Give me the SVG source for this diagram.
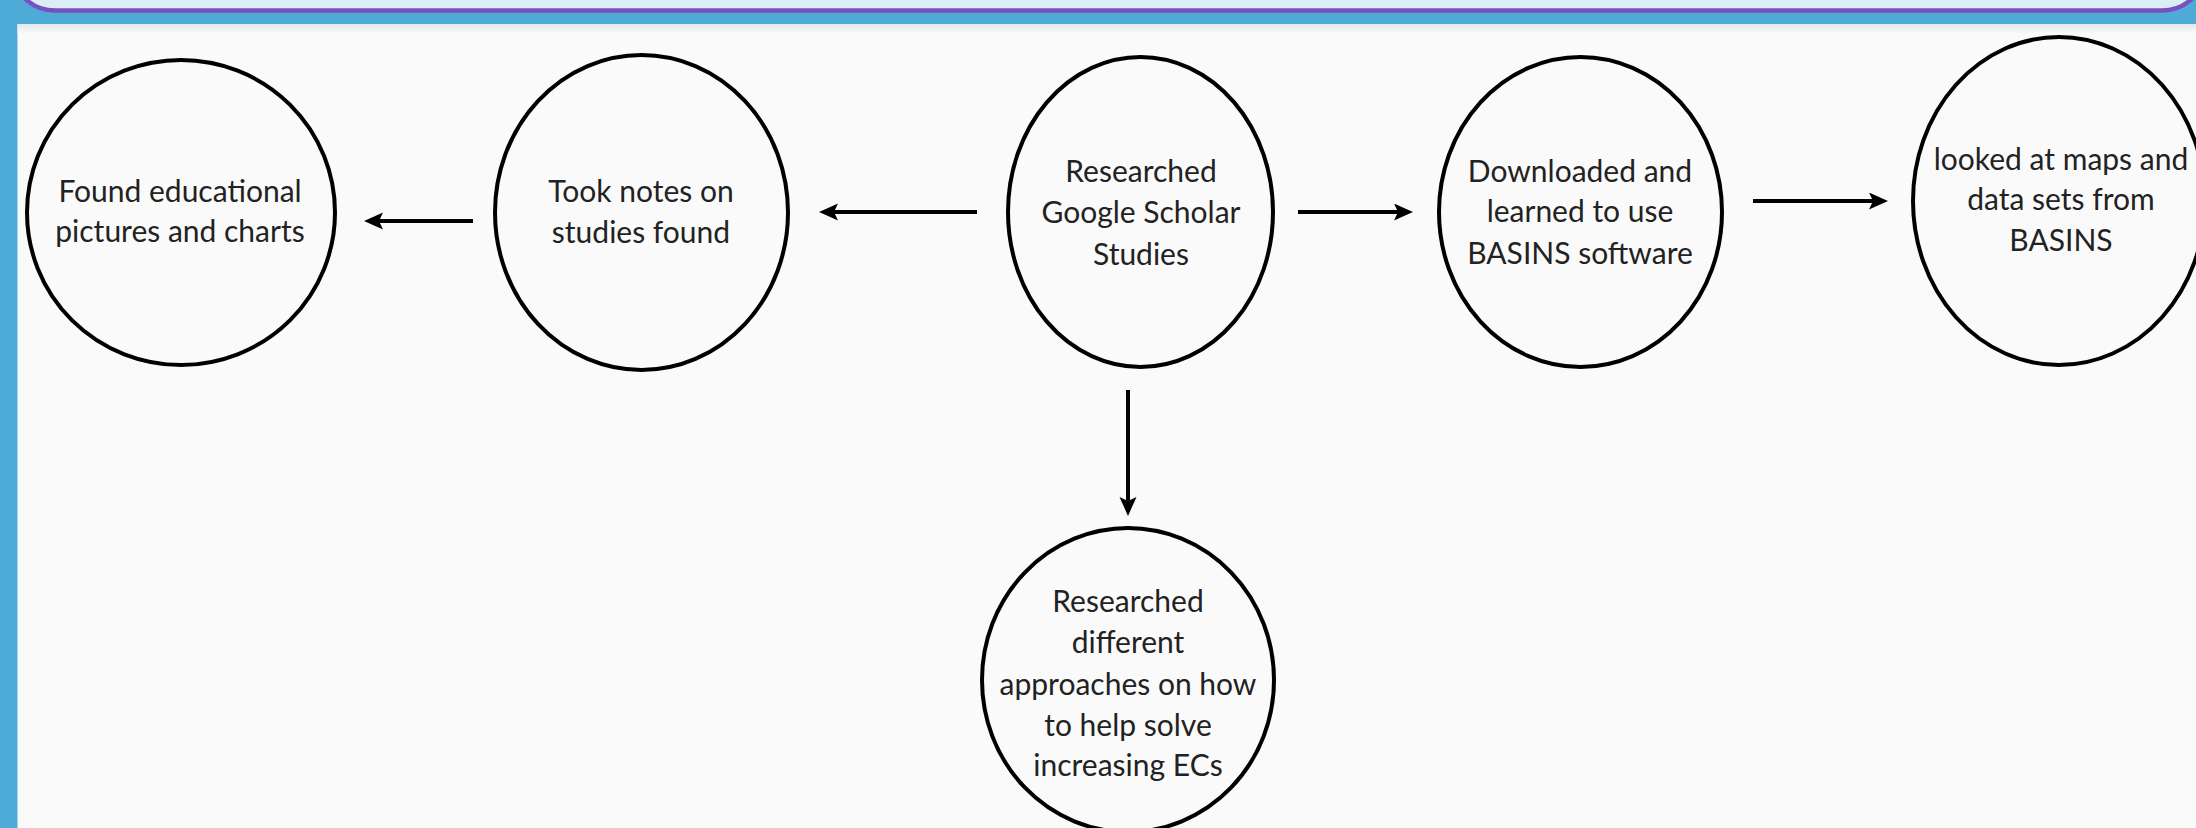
<svg xmlns="http://www.w3.org/2000/svg" width="2196" height="828" viewBox="0 0 2196 828">
<defs>
<style>
.node{fill:none;stroke:#000;stroke-width:4}
.lbl{font-family:Lato,"Liberation Sans",sans-serif;font-size:30px;fill:#222;text-anchor:middle}
.conn{stroke:#000;stroke-width:4;fill:none;marker-end:url(#ah)}
</style>
<marker id="ah" markerUnits="userSpaceOnUse" markerWidth="20" markerHeight="18" viewBox="0 0 20 18" refX="10" refY="8.5" orient="auto">
<path d="M0,0 L19,8.5 L0,17 L4,8.5 z" fill="#000"/>
</marker>
<linearGradient id="shade" x1="0" y1="0" x2="0" y2="1">
<stop offset="0" stop-color="#e6e8ea"/>
<stop offset="1" stop-color="#fafafa"/>
</linearGradient>
</defs>
<rect x="0" y="0" width="2196" height="828" fill="#4eaad6"/>
<rect x="15" y="-60" width="2187" height="70.5" rx="40" ry="40" fill="#dceef5" stroke="#7a4fbf" stroke-width="4.5"/>
<rect x="17.5" y="24" width="2180" height="806" fill="#fafafa"/>
<rect x="17.5" y="24" width="2180" height="10" fill="url(#shade)"/>
<g id="connectors">
<line class="conn" x1="473" y1="221" x2="373" y2="221"/>
<line class="conn" x1="977" y1="212" x2="828" y2="212"/>
<line class="conn" x1="1298" y1="212" x2="1404" y2="212"/>
<line class="conn" x1="1753" y1="201" x2="1879" y2="201"/>
<line class="conn" x1="1128" y1="390" x2="1128" y2="507"/>
</g>
<g id="n1">
<ellipse class="node" cx="181" cy="212.5" rx="154" ry="152.5"/>
<text class="lbl" x="180" y="202">Found educational</text>
<text class="lbl" x="180" y="242">pictures and charts</text>
</g>
<g id="n2">
<ellipse class="node" cx="641.5" cy="212.5" rx="146.5" ry="157.5"/>
<text class="lbl" x="641" y="202">Took notes on</text>
<text class="lbl" x="641" y="243">studies found</text>
</g>
<g id="n3">
<ellipse class="node" cx="1140.5" cy="212" rx="132.5" ry="155"/>
<text class="lbl" x="1141" y="182">Researched</text>
<text class="lbl" x="1141" y="223">Google Scholar</text>
<text class="lbl" x="1141" y="265">Studies</text>
</g>
<g id="n4">
<ellipse class="node" cx="1580.5" cy="212" rx="141.5" ry="155"/>
<text class="lbl" x="1580" y="182">Downloaded and</text>
<text class="lbl" x="1580" y="222">learned to use</text>
<text class="lbl" x="1580" y="264">BASINS software</text>
</g>
<g id="n5">
<ellipse class="node" cx="2059" cy="201" rx="146" ry="164"/>
<text class="lbl" x="2061" y="170">looked at maps and</text>
<text class="lbl" x="2061" y="210">data sets from</text>
<text class="lbl" x="2061" y="251">BASINS</text>
</g>
<g id="n6">
<ellipse class="node" cx="1128" cy="680" rx="146" ry="152"/>
<text class="lbl" x="1128" y="612">Researched</text>
<text class="lbl" x="1128" y="653">different</text>
<text class="lbl" x="1128" y="695">approaches on how</text>
<text class="lbl" x="1128" y="736">to help solve</text>
<text class="lbl" x="1128" y="776">increasing ECs</text>
</g>
</svg>
